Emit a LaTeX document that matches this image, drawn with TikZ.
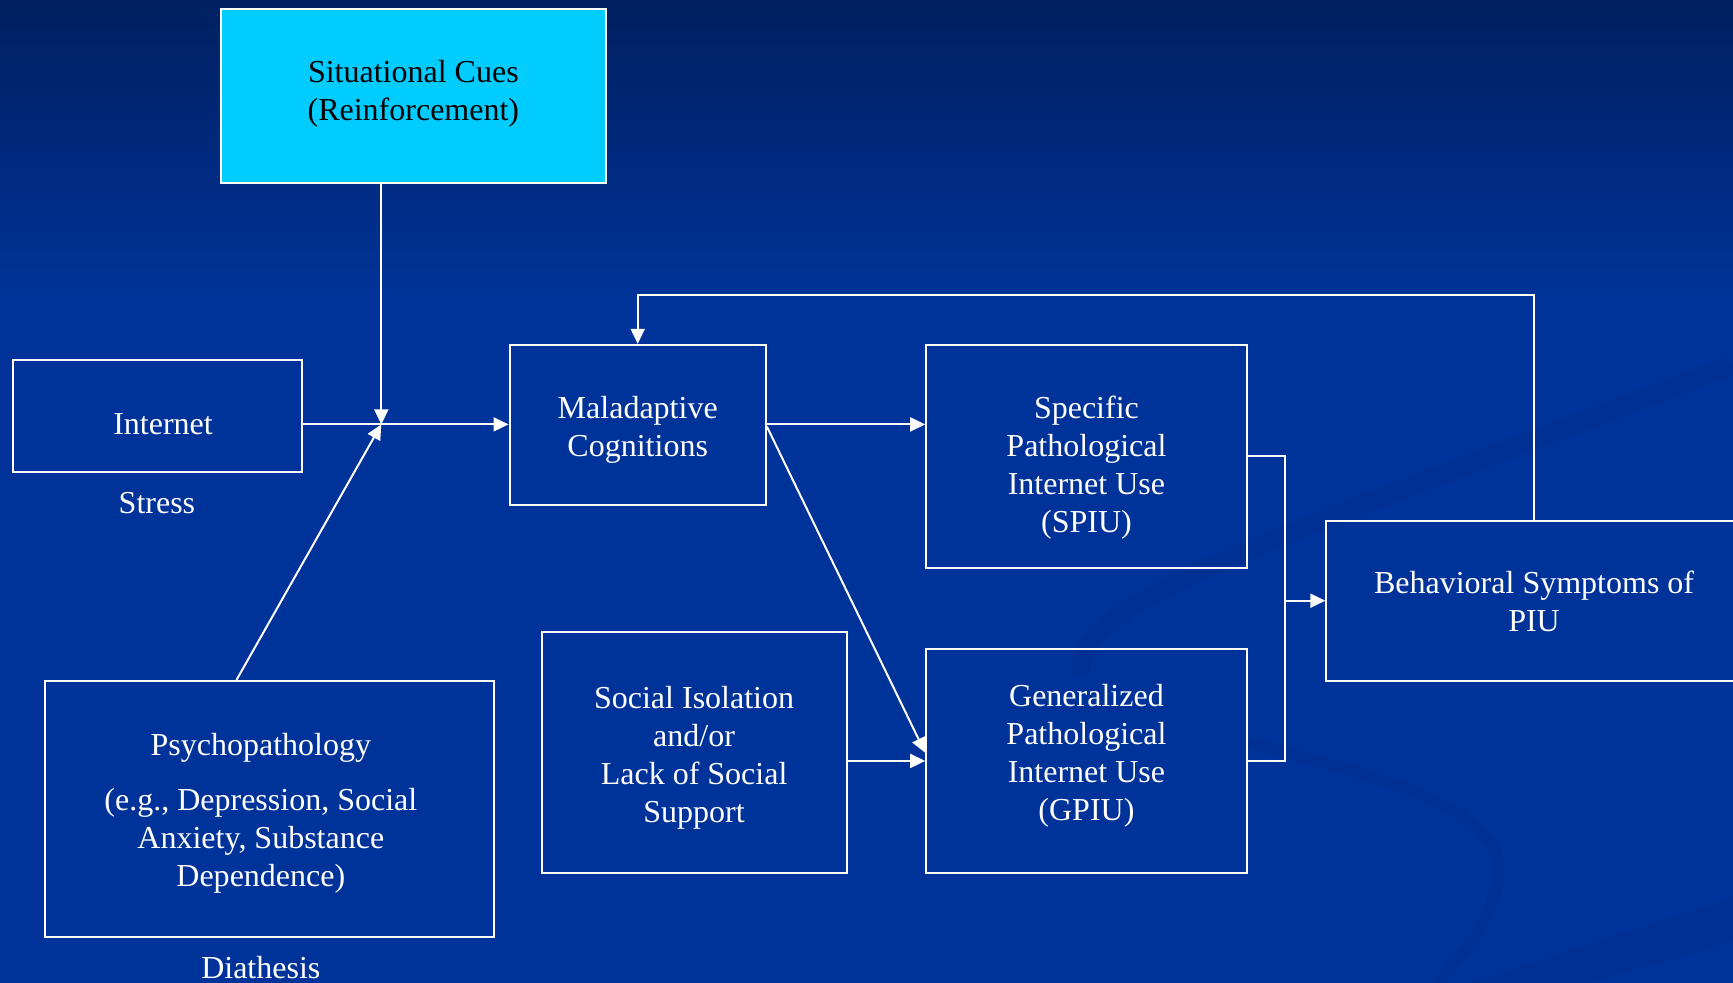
\documentclass[tikz,border=0pt]{standalone}
\usepackage{fontspec}
\setmainfont{Liberation Serif}
\usetikzlibrary{arrows.meta,calc}
\definecolor{bgtop}{RGB}{0,32,96}
\definecolor{bgblue}{RGB}{0,51,153}
\definecolor{swoosh}{RGB}{0,36,120}
\definecolor{cuecyan}{RGB}{0,204,255}
\begin{document}
\begin{tikzpicture}[x=0.5525pt,y=-0.5525pt,
  box/.style 2 args={draw=white, line width=1pt, inner sep=0pt,
    minimum width=#1*0.5525pt, minimum height=#2*0.5525pt},
  txt/.style={text=white, align=center, inner sep=0pt, font=\fontsize{16}{19}\selectfont},
  conn/.style={draw=white, line width=1pt},
  arr/.style={conn, -{Triangle[length=7.5pt,width=7pt]}}]
% background
\fill[bgblue] (0,0) rectangle (1568,889);
\shade[top color=bgtop, bottom color=bgblue] (0,0) rectangle (1568,272);
\useasboundingbox (0,0) rectangle (1568,888.7);
\begin{scope}[opacity=0.18]
  \draw[swoosh, line width=10pt] (978,610) .. controls (972,545) and (1120,500) .. (1568,330);
  \draw[swoosh, line width=6pt] (1130,672) .. controls (1260,705) and (1370,735) .. (1355,800) .. controls (1345,840) and (1320,868) .. (1300,889);
  \fill[swoosh] (1330,889) -- (1568,812) -- (1568,852) -- (1440,889) -- cycle;
\end{scope}
% boxes
\node[box={348}{158}, fill=cuecyan] (sit) at (374,87) {};
\node[box={261}{101}] (inet) at (142.5,376.5) {};
\node[box={232}{145}] (mal) at (577,384.5) {};
\node[box={290}{202}] (spiu) at (983,413) {};
\node[box={290}{203}] (gpiu) at (983,688.5) {};
\node[box={276}{218}] (soc) at (628,681) {};
\node[box={406}{232}] (psych) at (244,732) {};
\node[box={376}{145}] (bsym) at (1388,543.5) {};
% texts
\node[txt, text=black] (sit-t) at (374,84.5) {Situational Cues\\(Reinforcement)};
\node[txt] (inet-t) at (147.5,383.5) {Internet};
\node[txt] (stress) at (142,455) {Stress};
\node[txt] (mal-t) at (577,388.5) {Maladaptive\\Cognitions};
\node[txt] (spiu-t) at (983,423) {Specific\\Pathological\\Internet Use\\(SPIU)};
\node[txt] (gpiu-t) at (983,683.5) {Generalized\\Pathological\\Internet Use\\(GPIU)};
\node[txt] (soc-t) at (628,686) {Social Isolation\\and/or\\Lack of Social\\Support};
\node[txt] (psych-t) at (236,736) {Psychopathology\\[8.8pt](e.g., Depression, Social\\Anxiety, Substance\\Dependence)};
\node[txt] (diath) at (236,875) {Diathesis};
\node[txt] (bsym-t) at (1388,544.5) {Behavioral Symptoms of\\PIU};
% connectors
\coordinate (j) at (345,384);
\coordinate (bus) at (1163,543.5);
\draw[arr] (sit.south -| j) -- (j);
\draw[conn] (j -| inet.east) -- (j);
\draw[arr] ([xshift=96.1pt]psych.north west) -- (j);
\draw[arr] (j) -- (j -| mal.west);
\draw[arr] (j -| mal.east) -- (j -| spiu.west);
\draw[arr] ([yshift=-1.1pt]j -| mal.east) -- ([yshift=4.1pt]gpiu.west);
\draw[arr] (gpiu.west -| soc.east) -- (gpiu.west);
\draw[conn] (spiu.east) -| (bus) |- (gpiu.east);
\draw[arr] (bus) -- (bsym.west);
\draw[arr] (bsym.north) -- ++(0,-203) -| (mal.north);
\end{tikzpicture}
\end{document}
